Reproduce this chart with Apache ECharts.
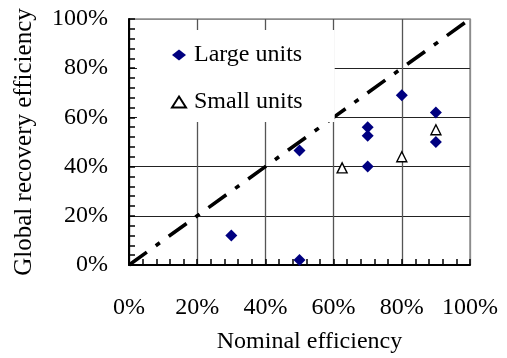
<!DOCTYPE html>
<html>
<head>
<meta charset="utf-8">
<script src="https://cdn.jsdelivr.net/npm/echarts@6/dist/echarts.min.js"></script>
<style>
  html, body { margin: 0; padding: 0; background: #fff; }
  #chart { width: 507px; height: 358px; }
</style>
</head>
<body>
<div id="chart"></div>
<script>
// Nominal vs. global recovery efficiency, in percent
const largeNominal = [30, 50, 50, 70, 70, 70, 80, 90, 90];
const largeGlobal  = [12, 2, 46.5, 56, 52.5, 40, 69, 62, 50];
const smallNominal = [62.5, 80, 90];
const smallGlobal  = [39.5, 44, 55];
const parityLine   = [[0, 0], [100, 100]];
const tickValues   = [0, 20, 40, 60, 80, 100];

const pairs = (xs, ys) => xs.map((x, i) => [x, ys[i]]);
const font = "'Liberation Serif', 'Times New Roman', serif";
const tickLen = 6;

const chart = echarts.init(document.getElementById('chart'), null, { renderer: 'canvas' });

chart.setOption({
  animation: false,
  backgroundColor: '#fff',
  grid: {
    left: 129, right: 37, top: 19, bottom: 93,
    outerBoundsMode: 'none',
    containLabel: false,
    show: true, borderColor: '#8c8c8c', borderWidth: 1.5, backgroundColor: 'transparent'
  },
  legend: {
    left: 137, top: 30,
    orient: 'vertical',
    padding: [12, 32, 7, 34],
    backgroundColor: '#fff',
    itemGap: 21,
    itemWidth: 14, itemHeight: 11,
    data: ['Large units', 'Small units'],
    textStyle: { fontFamily: font, fontSize: 24, color: '#000', lineHeight: 26, padding: [0, 0, 0, 3] }
  },
  xAxis: {
    type: 'value', min: tickValues[0], max: tickValues[tickValues.length - 1], interval: 20,
    name: 'Nominal efficiency', nameLocation: 'middle', nameGap: 65,
    nameTextStyle: { fontFamily: font, fontSize: 24, color: '#000', padding: [0, 0, 0, 20] },
    axisLine: { show: true, onZero: false, lineStyle: { color: '#000', width: 2 } },
    axisTick: { show: true, inside: true, length: tickLen, lineStyle: { color: '#000', width: 1.5 } },
    minorTick: { show: true, splitNumber: 5, length: tickLen, lineStyle: { color: '#000', width: 1.5 } },
    axisLabel: { fontFamily: font, fontSize: 24, color: '#000', margin: 31, formatter: '{value}%' },
    splitLine: { show: true, lineStyle: { color: ['#000', '#555', '#555', '#555', '#555', '#8c8c8c'], width: 1.3 } }
  },
  yAxis: {
    type: 'value', min: tickValues[0], max: tickValues[tickValues.length - 1], interval: 20,
    name: 'Global recovery efficiency', nameLocation: 'middle', nameGap: 92, nameRotate: 90,
    nameTextStyle: { fontFamily: font, fontSize: 25, color: '#000' },
    axisLine: { show: true, onZero: false, lineStyle: { color: '#000', width: 2 } },
    axisTick: { show: true, inside: true, length: tickLen, lineStyle: { color: '#000', width: 1.5 } },
    minorTick: { show: true, splitNumber: 5, length: tickLen, lineStyle: { color: '#000', width: 1.5 } },
    axisLabel: { fontFamily: font, fontSize: 24, color: '#000', margin: 21, formatter: '{value}%' },
    splitLine: { show: true, lineStyle: { color: ['#000', '#222', '#222', '#222', '#222', '#8c8c8c'], width: 1.2 } }
  },
  series: [
    {
      name: 'parity',
      type: 'line',
      data: parityLine,
      symbol: 'none',
      silent: true,
      z: 1,
      lineStyle: { color: '#000', width: 3.6, type: [22, 11, 5, 11], cap: 'butt' }
    },
    {
      name: 'Large units',
      type: 'scatter',
      data: pairs(largeNominal, largeGlobal),
      symbol: 'diamond',
      symbolSize: 12,
      z: 3,
      itemStyle: { color: '#000080', opacity: 1 }
    },
    {
      name: 'Small units',
      type: 'scatter',
      data: pairs(smallNominal, smallGlobal),
      symbol: 'triangle',
      symbolSize: 10,
      z: 3,
      itemStyle: { color: '#fff', borderColor: '#000', borderWidth: 1.4, opacity: 1 }
    }
  ]
});
</script>
</body>
</html>
